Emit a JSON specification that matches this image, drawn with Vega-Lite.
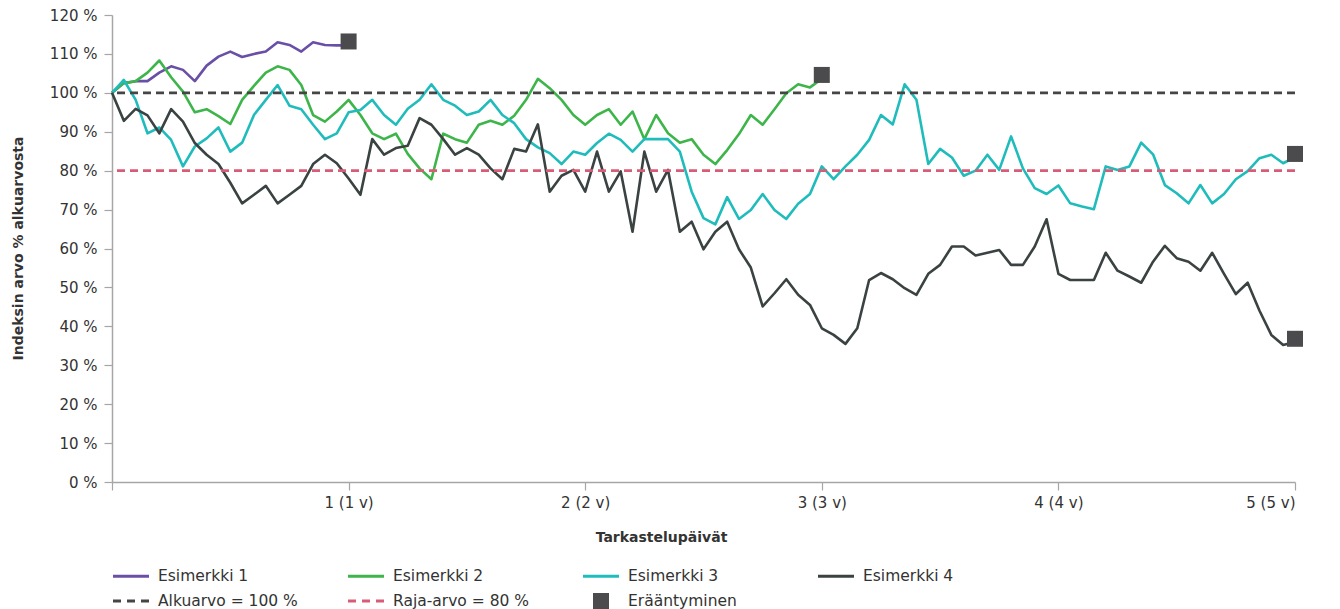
{
  "$schema": "https://vega.github.io/schema/vega-lite/v6.json",
  "width": 1183,
  "height": 467,
  "autosize": "none",
  "padding": {"left": 112, "top": 15, "right": 45, "bottom": 127},
  "config": {
    "view": {"stroke": null},
    "font": "DejaVu Sans",
    "axis": {
      "grid": false,
      "labelFont": "DejaVu Sans",
      "labelFontSize": 15,
      "labelColor": "#333333",
      "labelOverlap": false,
      "titleFont": "DejaVu Sans",
      "titleFontSize": 14,
      "titleFontWeight": "bold",
      "titleColor": "#333333",
      "domainColor": "#a6a6a6",
      "domainWidth": 1.5,
      "tickColor": "#a6a6a6",
      "tickWidth": 1.2,
      "tickSize": 8
    },
    "legend": {
      "labelFont": "DejaVu Sans",
      "labelFontSize": 15.5,
      "labelColor": "#333333"
    }
  },
  "datasets": {
    "lines": [
      {"series": "Esimerkki 1", "year": 0, "value": 100},
      {"series": "Esimerkki 1", "year": 0.05, "value": 102.5},
      {"series": "Esimerkki 1", "year": 0.1, "value": 103},
      {"series": "Esimerkki 1", "year": 0.15, "value": 103},
      {"series": "Esimerkki 1", "year": 0.2, "value": 105.2},
      {"series": "Esimerkki 1", "year": 0.25, "value": 106.8},
      {"series": "Esimerkki 1", "year": 0.3, "value": 105.9},
      {"series": "Esimerkki 1", "year": 0.35, "value": 103},
      {"series": "Esimerkki 1", "year": 0.4, "value": 107},
      {"series": "Esimerkki 1", "year": 0.45, "value": 109.3},
      {"series": "Esimerkki 1", "year": 0.5, "value": 110.6},
      {"series": "Esimerkki 1", "year": 0.55, "value": 109.2},
      {"series": "Esimerkki 1", "year": 0.6, "value": 110},
      {"series": "Esimerkki 1", "year": 0.65, "value": 110.6},
      {"series": "Esimerkki 1", "year": 0.7, "value": 113},
      {"series": "Esimerkki 1", "year": 0.75, "value": 112.3},
      {"series": "Esimerkki 1", "year": 0.8, "value": 110.6},
      {"series": "Esimerkki 1", "year": 0.85, "value": 113},
      {"series": "Esimerkki 1", "year": 0.9, "value": 112.3},
      {"series": "Esimerkki 1", "year": 0.95, "value": 112.2},
      {"series": "Esimerkki 1", "year": 1, "value": 112.2},

      {"series": "Esimerkki 2", "year": 0, "value": 100},
      {"series": "Esimerkki 2", "year": 0.05, "value": 102.5},
      {"series": "Esimerkki 2", "year": 0.1, "value": 103},
      {"series": "Esimerkki 2", "year": 0.15, "value": 105.2},
      {"series": "Esimerkki 2", "year": 0.2, "value": 108.3},
      {"series": "Esimerkki 2", "year": 0.25, "value": 104},
      {"series": "Esimerkki 2", "year": 0.3, "value": 100.3},
      {"series": "Esimerkki 2", "year": 0.35, "value": 95},
      {"series": "Esimerkki 2", "year": 0.4, "value": 95.8},
      {"series": "Esimerkki 2", "year": 0.45, "value": 94},
      {"series": "Esimerkki 2", "year": 0.5, "value": 92},
      {"series": "Esimerkki 2", "year": 0.55, "value": 98.2},
      {"series": "Esimerkki 2", "year": 0.6, "value": 101.8},
      {"series": "Esimerkki 2", "year": 0.65, "value": 105.2},
      {"series": "Esimerkki 2", "year": 0.7, "value": 106.8},
      {"series": "Esimerkki 2", "year": 0.75, "value": 105.9},
      {"series": "Esimerkki 2", "year": 0.8, "value": 102},
      {"series": "Esimerkki 2", "year": 0.85, "value": 94.3},
      {"series": "Esimerkki 2", "year": 0.9, "value": 92.6},
      {"series": "Esimerkki 2", "year": 0.95, "value": 95.2},
      {"series": "Esimerkki 2", "year": 1, "value": 98.2},
      {"series": "Esimerkki 2", "year": 1.05, "value": 94.3},
      {"series": "Esimerkki 2", "year": 1.1, "value": 89.6},
      {"series": "Esimerkki 2", "year": 1.15, "value": 88.1},
      {"series": "Esimerkki 2", "year": 1.2, "value": 89.5},
      {"series": "Esimerkki 2", "year": 1.25, "value": 84.3},
      {"series": "Esimerkki 2", "year": 1.3, "value": 80.6},
      {"series": "Esimerkki 2", "year": 1.35, "value": 77.8},
      {"series": "Esimerkki 2", "year": 1.4, "value": 89.5},
      {"series": "Esimerkki 2", "year": 1.45, "value": 88.1},
      {"series": "Esimerkki 2", "year": 1.5, "value": 87.2},
      {"series": "Esimerkki 2", "year": 1.55, "value": 91.8},
      {"series": "Esimerkki 2", "year": 1.6, "value": 92.8},
      {"series": "Esimerkki 2", "year": 1.65, "value": 91.8},
      {"series": "Esimerkki 2", "year": 1.7, "value": 94.1},
      {"series": "Esimerkki 2", "year": 1.75, "value": 98.2},
      {"series": "Esimerkki 2", "year": 1.8, "value": 103.6},
      {"series": "Esimerkki 2", "year": 1.85, "value": 101.2},
      {"series": "Esimerkki 2", "year": 1.9, "value": 98.2},
      {"series": "Esimerkki 2", "year": 1.95, "value": 94.3},
      {"series": "Esimerkki 2", "year": 2, "value": 91.8},
      {"series": "Esimerkki 2", "year": 2.05, "value": 94.3},
      {"series": "Esimerkki 2", "year": 2.1, "value": 95.8},
      {"series": "Esimerkki 2", "year": 2.15, "value": 91.8},
      {"series": "Esimerkki 2", "year": 2.2, "value": 95.2},
      {"series": "Esimerkki 2", "year": 2.25, "value": 88.1},
      {"series": "Esimerkki 2", "year": 2.3, "value": 94.3},
      {"series": "Esimerkki 2", "year": 2.35, "value": 89.6},
      {"series": "Esimerkki 2", "year": 2.4, "value": 87.2},
      {"series": "Esimerkki 2", "year": 2.45, "value": 88.1},
      {"series": "Esimerkki 2", "year": 2.5, "value": 84.1},
      {"series": "Esimerkki 2", "year": 2.55, "value": 81.7},
      {"series": "Esimerkki 2", "year": 2.6, "value": 85.3},
      {"series": "Esimerkki 2", "year": 2.65, "value": 89.4},
      {"series": "Esimerkki 2", "year": 2.7, "value": 94.3},
      {"series": "Esimerkki 2", "year": 2.75, "value": 91.8},
      {"series": "Esimerkki 2", "year": 2.8, "value": 95.8},
      {"series": "Esimerkki 2", "year": 2.85, "value": 99.9},
      {"series": "Esimerkki 2", "year": 2.9, "value": 102.2},
      {"series": "Esimerkki 2", "year": 2.95, "value": 101.4},
      {"series": "Esimerkki 2", "year": 3, "value": 103.6},

      {"series": "Esimerkki 3", "year": 0, "value": 100},
      {"series": "Esimerkki 3", "year": 0.05, "value": 103.3},
      {"series": "Esimerkki 3", "year": 0.1, "value": 98.2},
      {"series": "Esimerkki 3", "year": 0.15, "value": 89.6},
      {"series": "Esimerkki 3", "year": 0.2, "value": 91.1},
      {"series": "Esimerkki 3", "year": 0.25, "value": 87.9},
      {"series": "Esimerkki 3", "year": 0.3, "value": 81.1},
      {"series": "Esimerkki 3", "year": 0.35, "value": 86.2},
      {"series": "Esimerkki 3", "year": 0.4, "value": 88.3},
      {"series": "Esimerkki 3", "year": 0.45, "value": 91.1},
      {"series": "Esimerkki 3", "year": 0.5, "value": 84.9},
      {"series": "Esimerkki 3", "year": 0.55, "value": 87.2},
      {"series": "Esimerkki 3", "year": 0.6, "value": 94.3},
      {"series": "Esimerkki 3", "year": 0.65, "value": 98.2},
      {"series": "Esimerkki 3", "year": 0.7, "value": 102},
      {"series": "Esimerkki 3", "year": 0.75, "value": 96.7},
      {"series": "Esimerkki 3", "year": 0.8, "value": 95.8},
      {"series": "Esimerkki 3", "year": 0.85, "value": 91.8},
      {"series": "Esimerkki 3", "year": 0.9, "value": 88.1},
      {"series": "Esimerkki 3", "year": 0.95, "value": 89.6},
      {"series": "Esimerkki 3", "year": 1, "value": 95},
      {"series": "Esimerkki 3", "year": 1.05, "value": 95.6},
      {"series": "Esimerkki 3", "year": 1.1, "value": 98.2},
      {"series": "Esimerkki 3", "year": 1.15, "value": 94.3},
      {"series": "Esimerkki 3", "year": 1.2, "value": 91.8},
      {"series": "Esimerkki 3", "year": 1.25, "value": 95.9},
      {"series": "Esimerkki 3", "year": 1.3, "value": 98.2},
      {"series": "Esimerkki 3", "year": 1.35, "value": 102.2},
      {"series": "Esimerkki 3", "year": 1.4, "value": 98.2},
      {"series": "Esimerkki 3", "year": 1.45, "value": 96.7},
      {"series": "Esimerkki 3", "year": 1.5, "value": 94.3},
      {"series": "Esimerkki 3", "year": 1.55, "value": 95.2},
      {"series": "Esimerkki 3", "year": 1.6, "value": 98.2},
      {"series": "Esimerkki 3", "year": 1.65, "value": 94.3},
      {"series": "Esimerkki 3", "year": 1.7, "value": 92.2},
      {"series": "Esimerkki 3", "year": 1.75, "value": 88.1},
      {"series": "Esimerkki 3", "year": 1.8, "value": 86},
      {"series": "Esimerkki 3", "year": 1.85, "value": 84.5},
      {"series": "Esimerkki 3", "year": 1.9, "value": 81.7},
      {"series": "Esimerkki 3", "year": 1.95, "value": 84.9},
      {"series": "Esimerkki 3", "year": 2, "value": 84.1},
      {"series": "Esimerkki 3", "year": 2.05, "value": 87.1},
      {"series": "Esimerkki 3", "year": 2.1, "value": 89.5},
      {"series": "Esimerkki 3", "year": 2.15, "value": 87.9},
      {"series": "Esimerkki 3", "year": 2.2, "value": 84.9},
      {"series": "Esimerkki 3", "year": 2.25, "value": 88.1},
      {"series": "Esimerkki 3", "year": 2.3, "value": 88.1},
      {"series": "Esimerkki 3", "year": 2.35, "value": 88.1},
      {"series": "Esimerkki 3", "year": 2.4, "value": 84.9},
      {"series": "Esimerkki 3", "year": 2.45, "value": 74.6},
      {"series": "Esimerkki 3", "year": 2.5, "value": 67.8},
      {"series": "Esimerkki 3", "year": 2.55, "value": 66.2},
      {"series": "Esimerkki 3", "year": 2.6, "value": 73.2},
      {"series": "Esimerkki 3", "year": 2.65, "value": 67.6},
      {"series": "Esimerkki 3", "year": 2.7, "value": 69.9},
      {"series": "Esimerkki 3", "year": 2.75, "value": 74},
      {"series": "Esimerkki 3", "year": 2.8, "value": 69.9},
      {"series": "Esimerkki 3", "year": 2.85, "value": 67.6},
      {"series": "Esimerkki 3", "year": 2.9, "value": 71.5},
      {"series": "Esimerkki 3", "year": 2.95, "value": 74},
      {"series": "Esimerkki 3", "year": 3, "value": 81.1},
      {"series": "Esimerkki 3", "year": 3.05, "value": 77.8},
      {"series": "Esimerkki 3", "year": 3.1, "value": 81.1},
      {"series": "Esimerkki 3", "year": 3.15, "value": 84.1},
      {"series": "Esimerkki 3", "year": 3.2, "value": 87.9},
      {"series": "Esimerkki 3", "year": 3.25, "value": 94.3},
      {"series": "Esimerkki 3", "year": 3.3, "value": 91.9},
      {"series": "Esimerkki 3", "year": 3.35, "value": 102.2},
      {"series": "Esimerkki 3", "year": 3.4, "value": 98.2},
      {"series": "Esimerkki 3", "year": 3.45, "value": 81.7},
      {"series": "Esimerkki 3", "year": 3.5, "value": 85.6},
      {"series": "Esimerkki 3", "year": 3.55, "value": 83.4},
      {"series": "Esimerkki 3", "year": 3.6, "value": 78.7},
      {"series": "Esimerkki 3", "year": 3.65, "value": 80},
      {"series": "Esimerkki 3", "year": 3.7, "value": 84.1},
      {"series": "Esimerkki 3", "year": 3.75, "value": 80.2},
      {"series": "Esimerkki 3", "year": 3.8, "value": 88.8},
      {"series": "Esimerkki 3", "year": 3.85, "value": 80.6},
      {"series": "Esimerkki 3", "year": 3.9, "value": 75.5},
      {"series": "Esimerkki 3", "year": 3.95, "value": 74},
      {"series": "Esimerkki 3", "year": 4, "value": 76.2},
      {"series": "Esimerkki 3", "year": 4.05, "value": 71.6},
      {"series": "Esimerkki 3", "year": 4.1, "value": 70.8},
      {"series": "Esimerkki 3", "year": 4.15, "value": 70.1},
      {"series": "Esimerkki 3", "year": 4.2, "value": 81.1},
      {"series": "Esimerkki 3", "year": 4.25, "value": 80.2},
      {"series": "Esimerkki 3", "year": 4.3, "value": 81.1},
      {"series": "Esimerkki 3", "year": 4.35, "value": 87.2},
      {"series": "Esimerkki 3", "year": 4.4, "value": 84.2},
      {"series": "Esimerkki 3", "year": 4.45, "value": 76.3},
      {"series": "Esimerkki 3", "year": 4.5, "value": 74.2},
      {"series": "Esimerkki 3", "year": 4.55, "value": 71.6},
      {"series": "Esimerkki 3", "year": 4.6, "value": 76.3},
      {"series": "Esimerkki 3", "year": 4.65, "value": 71.6},
      {"series": "Esimerkki 3", "year": 4.7, "value": 74},
      {"series": "Esimerkki 3", "year": 4.75, "value": 77.8},
      {"series": "Esimerkki 3", "year": 4.8, "value": 79.9},
      {"series": "Esimerkki 3", "year": 4.85, "value": 83.2},
      {"series": "Esimerkki 3", "year": 4.9, "value": 84.1},
      {"series": "Esimerkki 3", "year": 4.95, "value": 81.9},
      {"series": "Esimerkki 3", "year": 5, "value": 83.5},

      {"series": "Esimerkki 4", "year": 0, "value": 100},
      {"series": "Esimerkki 4", "year": 0.05, "value": 92.8},
      {"series": "Esimerkki 4", "year": 0.1, "value": 95.9},
      {"series": "Esimerkki 4", "year": 0.15, "value": 94.2},
      {"series": "Esimerkki 4", "year": 0.2, "value": 89.6},
      {"series": "Esimerkki 4", "year": 0.25, "value": 95.8},
      {"series": "Esimerkki 4", "year": 0.3, "value": 92.6},
      {"series": "Esimerkki 4", "year": 0.35, "value": 87.1},
      {"series": "Esimerkki 4", "year": 0.4, "value": 84.1},
      {"series": "Esimerkki 4", "year": 0.45, "value": 81.7},
      {"series": "Esimerkki 4", "year": 0.5, "value": 76.9},
      {"series": "Esimerkki 4", "year": 0.55, "value": 71.6},
      {"series": "Esimerkki 4", "year": 0.6, "value": 73.8},
      {"series": "Esimerkki 4", "year": 0.65, "value": 76.1},
      {"series": "Esimerkki 4", "year": 0.7, "value": 71.6},
      {"series": "Esimerkki 4", "year": 0.75, "value": 73.8},
      {"series": "Esimerkki 4", "year": 0.8, "value": 76.1},
      {"series": "Esimerkki 4", "year": 0.85, "value": 81.7},
      {"series": "Esimerkki 4", "year": 0.9, "value": 84.1},
      {"series": "Esimerkki 4", "year": 0.95, "value": 81.9},
      {"series": "Esimerkki 4", "year": 1, "value": 78},
      {"series": "Esimerkki 4", "year": 1.05, "value": 73.8},
      {"series": "Esimerkki 4", "year": 1.1, "value": 88.1},
      {"series": "Esimerkki 4", "year": 1.15, "value": 84.1},
      {"series": "Esimerkki 4", "year": 1.2, "value": 85.8},
      {"series": "Esimerkki 4", "year": 1.25, "value": 86.4},
      {"series": "Esimerkki 4", "year": 1.3, "value": 93.5},
      {"series": "Esimerkki 4", "year": 1.35, "value": 91.8},
      {"series": "Esimerkki 4", "year": 1.4, "value": 88.1},
      {"series": "Esimerkki 4", "year": 1.45, "value": 84.1},
      {"series": "Esimerkki 4", "year": 1.5, "value": 85.8},
      {"series": "Esimerkki 4", "year": 1.55, "value": 84.1},
      {"series": "Esimerkki 4", "year": 1.6, "value": 80.6},
      {"series": "Esimerkki 4", "year": 1.65, "value": 77.8},
      {"series": "Esimerkki 4", "year": 1.7, "value": 85.6},
      {"series": "Esimerkki 4", "year": 1.75, "value": 84.9},
      {"series": "Esimerkki 4", "year": 1.8, "value": 91.9},
      {"series": "Esimerkki 4", "year": 1.85, "value": 74.6},
      {"series": "Esimerkki 4", "year": 1.9, "value": 78.7},
      {"series": "Esimerkki 4", "year": 1.95, "value": 80.2},
      {"series": "Esimerkki 4", "year": 2, "value": 74.6},
      {"series": "Esimerkki 4", "year": 2.05, "value": 84.9},
      {"series": "Esimerkki 4", "year": 2.1, "value": 74.6},
      {"series": "Esimerkki 4", "year": 2.15, "value": 79.8},
      {"series": "Esimerkki 4", "year": 2.2, "value": 64.3},
      {"series": "Esimerkki 4", "year": 2.25, "value": 84.9},
      {"series": "Esimerkki 4", "year": 2.3, "value": 74.6},
      {"series": "Esimerkki 4", "year": 2.35, "value": 80.2},
      {"series": "Esimerkki 4", "year": 2.4, "value": 64.3},
      {"series": "Esimerkki 4", "year": 2.45, "value": 66.9},
      {"series": "Esimerkki 4", "year": 2.5, "value": 59.8},
      {"series": "Esimerkki 4", "year": 2.55, "value": 64.3},
      {"series": "Esimerkki 4", "year": 2.6, "value": 66.9},
      {"series": "Esimerkki 4", "year": 2.65, "value": 59.8},
      {"series": "Esimerkki 4", "year": 2.7, "value": 55.1},
      {"series": "Esimerkki 4", "year": 2.75, "value": 45.1},
      {"series": "Esimerkki 4", "year": 2.8, "value": 48.5},
      {"series": "Esimerkki 4", "year": 2.85, "value": 52.1},
      {"series": "Esimerkki 4", "year": 2.9, "value": 48.1},
      {"series": "Esimerkki 4", "year": 2.95, "value": 45.5},
      {"series": "Esimerkki 4", "year": 3, "value": 39.5},
      {"series": "Esimerkki 4", "year": 3.05, "value": 37.8},
      {"series": "Esimerkki 4", "year": 3.1, "value": 35.5},
      {"series": "Esimerkki 4", "year": 3.15, "value": 39.5},
      {"series": "Esimerkki 4", "year": 3.2, "value": 51.9},
      {"series": "Esimerkki 4", "year": 3.25, "value": 53.7},
      {"series": "Esimerkki 4", "year": 3.3, "value": 52.1},
      {"series": "Esimerkki 4", "year": 3.35, "value": 49.8},
      {"series": "Esimerkki 4", "year": 3.4, "value": 48.1},
      {"series": "Esimerkki 4", "year": 3.45, "value": 53.5},
      {"series": "Esimerkki 4", "year": 3.5, "value": 55.8},
      {"series": "Esimerkki 4", "year": 3.55, "value": 60.5},
      {"series": "Esimerkki 4", "year": 3.6, "value": 60.5},
      {"series": "Esimerkki 4", "year": 3.65, "value": 58.2},
      {"series": "Esimerkki 4", "year": 3.7, "value": 58.9},
      {"series": "Esimerkki 4", "year": 3.75, "value": 59.6},
      {"series": "Esimerkki 4", "year": 3.8, "value": 55.8},
      {"series": "Esimerkki 4", "year": 3.85, "value": 55.8},
      {"series": "Esimerkki 4", "year": 3.9, "value": 60.5},
      {"series": "Esimerkki 4", "year": 3.95, "value": 67.5},
      {"series": "Esimerkki 4", "year": 4, "value": 53.5},
      {"series": "Esimerkki 4", "year": 4.05, "value": 51.9},
      {"series": "Esimerkki 4", "year": 4.1, "value": 51.9},
      {"series": "Esimerkki 4", "year": 4.15, "value": 51.9},
      {"series": "Esimerkki 4", "year": 4.2, "value": 58.9},
      {"series": "Esimerkki 4", "year": 4.25, "value": 54.3},
      {"series": "Esimerkki 4", "year": 4.3, "value": 52.8},
      {"series": "Esimerkki 4", "year": 4.35, "value": 51.2},
      {"series": "Esimerkki 4", "year": 4.4, "value": 56.6},
      {"series": "Esimerkki 4", "year": 4.45, "value": 60.7},
      {"series": "Esimerkki 4", "year": 4.5, "value": 57.5},
      {"series": "Esimerkki 4", "year": 4.55, "value": 56.6},
      {"series": "Esimerkki 4", "year": 4.6, "value": 54.3},
      {"series": "Esimerkki 4", "year": 4.65, "value": 58.9},
      {"series": "Esimerkki 4", "year": 4.7, "value": 53.5},
      {"series": "Esimerkki 4", "year": 4.75, "value": 48.3},
      {"series": "Esimerkki 4", "year": 4.8, "value": 51.2},
      {"series": "Esimerkki 4", "year": 4.85, "value": 44},
      {"series": "Esimerkki 4", "year": 4.9, "value": 37.8},
      {"series": "Esimerkki 4", "year": 4.95, "value": 35.2},
      {"series": "Esimerkki 4", "year": 5, "value": 36}
    ],
    "refs": [
      {"series": "Alkuarvo = 100 %", "value": 100},
      {"series": "Raja-arvo = 80 %", "value": 80}
    ],
    "markers": [
      {"label": "Erääntyminen", "year": 1, "value": 113.2},
      {"label": "Erääntyminen", "year": 3, "value": 104.6},
      {"label": "Erääntyminen", "year": 5, "value": 84.3},
      {"label": "Erääntyminen", "year": 5, "value": 36.8}
    ]
  },
  "layer": [
    {
      "data": {"name": "lines"},
      "mark": {"type": "line", "strokeWidth": 2.6, "strokeJoin": "round"},
      "encoding": {
        "x": {
          "field": "year",
          "type": "quantitative",
          "scale": {"domain": [0, 5], "nice": false, "zero": true},
          "axis": {
            "values": [0, 1, 2, 3, 4, 5],
            "labelExpr": "datum.value == 0 ? '' : datum.value + ' (' + datum.value + ' v)'",
            "labelPadding": 5,
            "title": "Tarkastelupäivät",
            "titleX": 549,
            "titleY": 55,
            "titleAlign": "center",
            "titleBaseline": "middle"
          }
        },
        "y": {
          "field": "value",
          "type": "quantitative",
          "scale": {"domain": [0, 120], "nice": false},
          "axis": {
            "values": [0, 10, 20, 30, 40, 50, 60, 70, 80, 90, 100, 110, 120],
            "tickCount": 13,
            "labelExpr": "datum.value + ' %'",
            "labelPadding": 7,
            "title": "Indeksin arvo % alkuarvosta",
            "titleX": -94,
            "titleY": 233,
            "titleAngle": -90,
            "titleAlign": "center",
            "titleBaseline": "middle"
          }
        },
        "stroke": {
          "field": "series",
          "type": "nominal",
          "scale": {
            "domain": ["Esimerkki 1", "Esimerkki 2", "Esimerkki 3", "Esimerkki 4", "Alkuarvo = 100 %", "Raja-arvo = 80 %"],
            "range": ["#6a4fa6", "#3db54a", "#20bcbc", "#3a4242", "#454545", "#d95c76"]
          },
          "legend": null
        }
      }
    },
    {
      "data": {"name": "refs"},
      "mark": {"type": "rule", "strokeDash": [8, 5], "strokeWidth": 2.6},
      "encoding": {
        "y": {
          "field": "value",
          "type": "quantitative",
          "axis": {
            "values": [0, 10, 20, 30, 40, 50, 60, 70, 80, 90, 100, 110, 120],
            "tickCount": 13,
            "labelExpr": "datum.value + ' %'",
            "labelPadding": 7,
            "title": "Indeksin arvo % alkuarvosta",
            "titleX": -94,
            "titleY": 233,
            "titleAngle": -90,
            "titleAlign": "center",
            "titleBaseline": "middle"
          }
        },
        "stroke": {
          "field": "series",
          "type": "nominal",
          "scale": {
            "domain": ["Esimerkki 1", "Esimerkki 2", "Esimerkki 3", "Esimerkki 4", "Alkuarvo = 100 %", "Raja-arvo = 80 %"],
            "range": ["#6a4fa6", "#3db54a", "#20bcbc", "#3a4242", "#454545", "#d95c76"]
          },
          "legend": null
        }
      }
    },
    {
      "data": {"name": "markers"},
      "mark": {"type": "point", "filled": true, "opacity": 1, "size": 576},
      "encoding": {
        "x": {
          "field": "year",
          "type": "quantitative",
          "axis": {
            "values": [0, 1, 2, 3, 4, 5],
            "labelExpr": "datum.value == 0 ? '' : datum.value + ' (' + datum.value + ' v)'",
            "labelPadding": 5,
            "title": "Tarkastelupäivät",
            "titleX": 549,
            "titleY": 55,
            "titleAlign": "center",
            "titleBaseline": "middle"
          }
        },
        "y": {
          "field": "value",
          "type": "quantitative",
          "axis": {
            "values": [0, 10, 20, 30, 40, 50, 60, 70, 80, 90, 100, 110, 120],
            "tickCount": 13,
            "labelExpr": "datum.value + ' %'",
            "labelPadding": 7,
            "title": "Indeksin arvo % alkuarvosta",
            "titleX": -94,
            "titleY": 233,
            "titleAngle": -90,
            "titleAlign": "center",
            "titleBaseline": "middle"
          }
        },
        "color": {
          "field": "label",
          "type": "nominal",
          "scale": {
            "domain": ["Esimerkki 1", "Esimerkki 2", "Esimerkki 3", "Esimerkki 4", "Alkuarvo = 100 %", "Raja-arvo = 80 %", "Erääntyminen"],
            "range": ["#6a4fa6", "#3db54a", "#20bcbc", "#3a4242", "#454545", "#d95c76", "#4b4b4d"]
          },
          "legend": {
            "title": null,
            "orient": "none",
            "legendX": 7,
            "legendY": 549,
            "direction": "horizontal",
            "columns": 4,
            "gridAlign": "all",
            "columnPadding": 50,
            "rowPadding": 4,
            "symbolSize": 576,
            "symbolOpacity": 1,
            "symbolStrokeWidth": 0,
            "labelOffset": 15,
            "padding": 0
          }
        },
        "shape": {
          "field": "label",
          "type": "nominal",
          "scale": {
            "domain": ["Esimerkki 1", "Esimerkki 2", "Esimerkki 3", "Esimerkki 4", "Alkuarvo = 100 %", "Raja-arvo = 80 %", "Erääntyminen"],
            "range": [
              "M-1.5,-0.125H1.5V0.125H-1.5Z",
              "M-1.5,-0.125H1.5V0.125H-1.5Z",
              "M-1.5,-0.125H1.5V0.125H-1.5Z",
              "M-1.5,-0.125H1.5V0.125H-1.5Z",
              "M-1.5,-0.125H-0.833V0.125H-1.5ZM-0.333,-0.125H0.333V0.125H-0.333ZM0.833,-0.125H1.5V0.125H0.833Z",
              "M-1.5,-0.125H-0.833V0.125H-1.5ZM-0.333,-0.125H0.333V0.125H-0.333ZM0.833,-0.125H1.5V0.125H0.833Z",
              "M-0.667,-0.667H0.667V0.667H-0.667Z"
            ]
          },
          "legend": {
            "title": null,
            "orient": "none",
            "legendX": 7,
            "legendY": 549,
            "direction": "horizontal",
            "columns": 4,
            "gridAlign": "all",
            "columnPadding": 50,
            "rowPadding": 4,
            "symbolSize": 576,
            "symbolOpacity": 1,
            "symbolStrokeWidth": 0,
            "labelOffset": 15,
            "padding": 0
          }
        }
      }
    }
  ]
}
